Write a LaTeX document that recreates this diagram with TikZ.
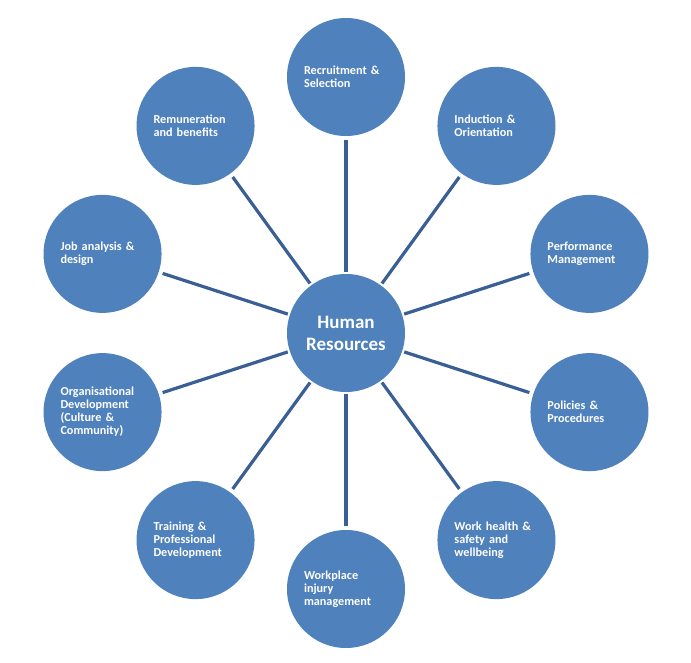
\documentclass[tikz,border=0pt]{standalone}
\usepackage{fontspec}
\setmainfont{Carlito}
\definecolor{hrfill}{HTML}{4F81BD}
\definecolor{hrline}{HTML}{3A5F94}
\begin{document}
\begin{tikzpicture}[x=1pt,y=-1pt,
  hub/.style={circle, fill=hrfill, minimum size=118pt, inner sep=0pt, text=white,
    font=\bfseries\fontsize{19}{22}\selectfont, align=center},
  topic/.style={circle, fill=hrfill, minimum size=118pt, inner sep=0pt, text=white,
    font=\bfseries\fontsize{12.2}{13}\selectfont, align=left, text width=84pt},
  link/.style={draw=hrline, line width=3.2pt, shorten <=2pt, shorten >=4pt}]
\fill[white] (0,0) rectangle (691,663);
\useasboundingbox (0,0) rectangle (691,663);
\node[hub] (hr) at (346,333) {Human\\Resources};
\path (346,333) ++(-90:256) node[topic] (rec) {Recruitment \&\\Selection};
\path (346,333) ++(-54:256) node[topic] (ind) {Induction \&\\Orientation};
\path (346,333) ++(-18:256) node[topic] (perf) {Performance\\Management};
\path (346,333) ++(18:256) node[topic] (pol) {Policies \&\\Procedures};
\path (346,333) ++(54:256) node[topic] (whs) {Work health \&\\safety and\\wellbeing};
\path (346,333) ++(90:256) node[topic] (inj) {Workplace\\injury\\management};
\path (346,333) ++(126:256) node[topic] (train) {Training \&\\Professional\\Development};
\path (346,333) ++(162:256) node[topic] (org) {Organisational\\Development\\(Culture \&\\Community)};
\path (346,333) ++(198:256) node[topic] (job) {Job analysis \&\\design};
\path (346,333) ++(234:256) node[topic] (rem) {Remuneration\\and benefits};
\foreach \n in {rec,ind,perf,pol,whs,inj,train,org,job,rem}
  \draw[link] (hr) -- (\n);
\end{tikzpicture}
\end{document}
